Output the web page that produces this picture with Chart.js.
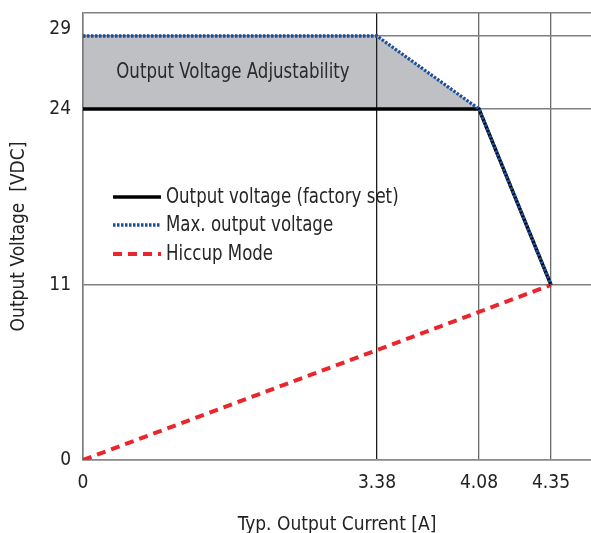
<!DOCTYPE html>
<html><head><meta charset="utf-8">
<script src="https://cdn.jsdelivr.net/npm/chart.js@4.4.1/dist/chart.umd.min.js"></script>
<style>html,body{margin:0;padding:0;background:#fff;overflow:hidden}canvas{display:block}</style>
</head><body>
<canvas id="c" width="591" height="533"></canvas>
<script>
// ---- data ----
const currentA = [0, 3.38, 4.08, 4.35];
const factorySetV = [24, 24, 24, 11];
const maxOutputV = [29, 29, 24, 11];
const hiccupCurrentA = [0, 4.35];
const hiccupV = [0, 11];
const xTickValues = [0, 3.38, 4.08, 4.35];
const xTickLabels = ['0', '3.38', '4.08', '4.35'];
const yTickValues = [0, 11, 24, 29];
const yTickLabels = ['0', '11', '24', '29'];
const seriesLabels = ['Output voltage (factory set)', 'Max. output voltage', 'Hiccup Mode'];
const annotationText = 'Output Voltage Adjustability';
const xTitle = 'Typ. Output Current [A]';
const yTitle = 'Output Voltage  [VDC]';

const FONT = "'Liberation Sans Narrow', 'Arial Narrow', 'DejaVu Sans Condensed', sans-serif";
const X_MAX = 4.5, Y_MAX = 30.6;
const SQUEEZE = 0.84;

// schematic (non-linear) axis layout: [value, fraction of axis length]
const BREAKS = {
  x: [[0, 0], [3.38, 0.5787], [4.08, 0.7795], [4.35, 0.9213], [X_MAX, 1]],
  y: [[0, 0], [11, 0.3915], [24, 0.7852], [29, 0.9485], [Y_MAX, 1]]
};

class PiecewiseScale extends Chart.LinearScale {
  static id = 'piecewise';
  static defaults = {};
  _dec(v) {
    const b = BREAKS[this.id];
    for (let i = 1; i < b.length; i++) {
      if (v <= b[i][0] || i === b.length - 1) {
        const [v0, f0] = b[i - 1], [v1, f1] = b[i];
        return f0 + (v - v0) * (f1 - f0) / (v1 - v0);
      }
    }
  }
  getPixelForValue(v) { return v === null ? NaN : this.getPixelForDecimal(this._dec(v)); }
  getValueForPixel(p) {
    const d = this.getDecimalForPixel(p);
    const b = BREAKS[this.id];
    for (let i = 1; i < b.length; i++) {
      if (d <= b[i][1] || i === b.length - 1) {
        const [v0, f0] = b[i - 1], [v1, f1] = b[i];
        return v0 + (d - f0) * (v1 - v0) / (f1 - f0);
      }
    }
  }
}
Chart.register(PiecewiseScale);

const toXY = (xs, ys) => xs.map((x, i) => ({x, y: ys[i]}));

function condensedText(ctx, text, x, y, align) {
  ctx.save();
  ctx.translate(x, y);
  ctx.scale(SQUEEZE, 1);
  ctx.textAlign = align;
  ctx.fillText(text, 0, 0);
  ctx.restore();
}

const legendPlugin = {
  id: 'inlineLegend',
  afterDatasetsDraw(chart) {
    const ctx = chart.ctx;
    const rows = [197, 225, 254];
    chart.data.datasets.forEach((ds) => {
      const r = rows[seriesLabels.indexOf(ds.label)];
      ctx.save();
      ctx.strokeStyle = ds.borderColor;
      ctx.lineWidth = ds.borderWidth;
      ctx.setLineDash(ds.borderDash || []);
      ctx.beginPath();
      ctx.moveTo(113, r);
      ctx.lineTo(161, r);
      ctx.stroke();
      ctx.setLineDash([]);
      ctx.fillStyle = '#262626';
      ctx.font = '22px ' + FONT;
      ctx.textBaseline = 'middle';
      condensedText(ctx, ds.label, 166, r, 'left');
      ctx.restore();
    });
  }
};

const annotationPlugin = {
  id: 'areaLabel',
  afterDatasetsDraw(chart) {
    const {ctx, scales: {x, y}} = chart;
    const cx = (x.getPixelForValue(0) + x.getPixelForValue(3.38)) / 2 + 3;
    const cy = (y.getPixelForValue(24) + y.getPixelForValue(29)) / 2;
    ctx.save();
    ctx.fillStyle = '#2a2a2a';
    ctx.font = '22px ' + FONT;
    ctx.textBaseline = 'middle';
    condensedText(ctx, annotationText, cx, cy, 'center');
    ctx.restore();
  }
};

new Chart(document.getElementById('c'), {
  type: 'line',
  data: {
    datasets: [
      {label: seriesLabels[1], data: toXY(currentA, maxOutputV), borderColor: '#1f4f9f', borderWidth: 3.3,
       borderDash: [2.5, 1.5], pointRadius: 0, fill: '+1', backgroundColor: '#bec0c3', order: 0, tension: 0},
      {label: seriesLabels[0], data: toXY(currentA, factorySetV), borderColor: '#000000', borderWidth: 3.5,
       pointRadius: 0, fill: false, order: 1, tension: 0},
      {label: seriesLabels[2], data: toXY(hiccupCurrentA, hiccupV), borderColor: '#e9262c', borderWidth: 4,
       borderDash: [9, 6], pointRadius: 0, fill: false, order: 2, tension: 0}
    ]
  },
  options: {
    responsive: false,
    animation: false,
    devicePixelRatio: 1,
    layout: {padding: {top: 13, left: 0, right: 0, bottom: 0}},
    plugins: {
      legend: {display: false},
      tooltip: {enabled: false},
      filler: {drawTime: 'beforeDraw'}
    },
    scales: {
      x: {
        type: 'piecewise', min: 0, max: X_MAX,
        afterBuildTicks: s => { s.ticks = xTickValues.map(v => ({value: v})); },
        afterFit: s => { s.height = 73; s.paddingLeft = 0; s.paddingRight = 0; },
        ticks: {
          autoSkip: false, maxRotation: 0, padding: 12, color: '#222',
          font: {family: FONT, size: 19},
          callback: v => { const i = xTickValues.indexOf(v); return i >= 0 ? xTickLabels[i] : ''; }
        },
        grid: {
          drawTicks: false, lineWidth: 1.3,
          color: c => (c.tick && c.tick.value === 3.38) ? '#1e1e1e' : '#6a6a6a'
        },
        border: {display: true, color: '#8a8a8a', width: 1.5},
        title: {display: true, text: xTitle, color: '#222', font: {family: FONT, size: 19, lineHeight: 0.8}, padding: 0}
      },
      y: {
        type: 'piecewise', min: 0, max: Y_MAX,
        afterBuildTicks: s => { s.ticks = yTickValues.concat([Y_MAX]).map(v => ({value: v})); },
        afterFit: s => { s.width = 83; s.paddingTop = 0; s.paddingBottom = 0; },
        ticks: {
          autoSkip: false, padding: 12, color: '#222',
          font: c => ({family: FONT, size: 19, lineHeight: (c.tick && c.tick.value === 29) ? '13px' : 1.2}),
          callback: v => {
            const i = yTickValues.indexOf(v);
            if (i < 0) return '';
            return v === 29 ? [yTickLabels[i], ''] : yTickLabels[i];
          }
        },
        grid: {drawTicks: false, lineWidth: 1.5, color: '#808080'},
        border: {display: true, color: '#7a7a7a', width: 1.5},
        title: {display: true, text: yTitle, color: '#222', font: {family: FONT, size: 19}, padding: {top: 8, bottom: 0}}
      }
    }
  },
  plugins: [annotationPlugin, legendPlugin]
});
</script>
</body></html>
